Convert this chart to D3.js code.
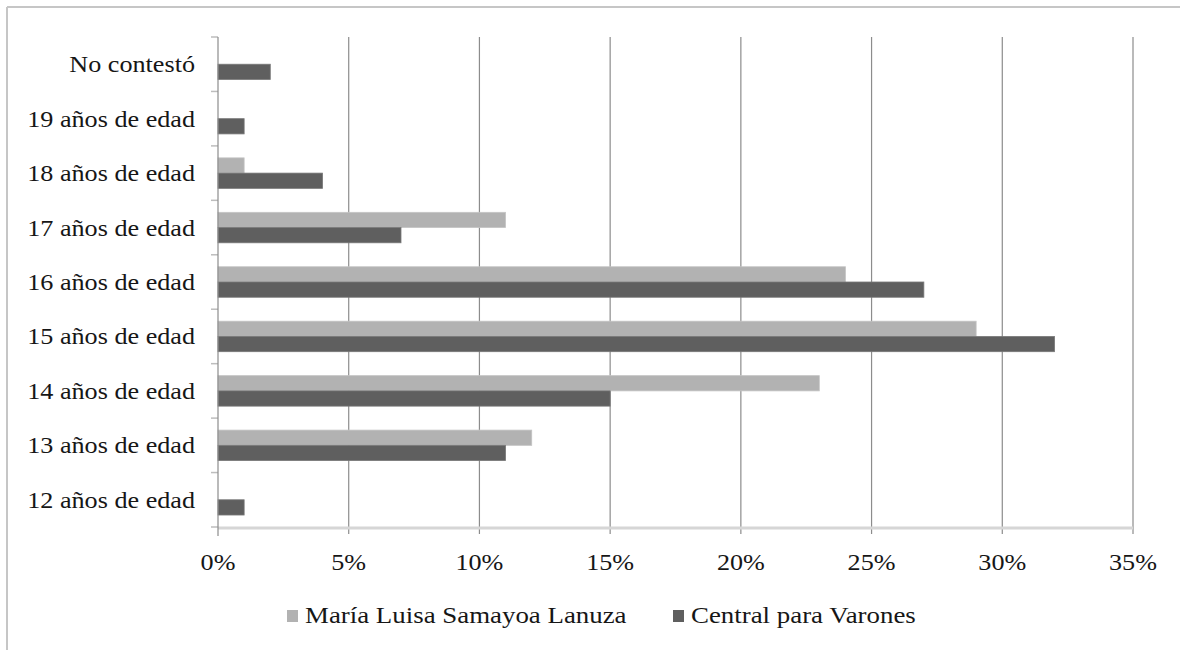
<!DOCTYPE html>
<html>
<head>
<meta charset="utf-8">
<script src="https://cdn.jsdelivr.net/npm/d3@7"></script>
<style>
  html, body { margin: 0; padding: 0; background: #fff; }
  svg { display: block; }
  text { font-family: "Liberation Serif", "Times New Roman", serif; fill: #161616; }
</style>
</head>
<body>
<svg id="chart" width="1180" height="650"></svg>
<script>
// Age groups, bottom to top as drawn on the vertical axis
const categories = ["12 años de edad", "13 años de edad", "14 años de edad", "15 años de edad",
  "16 años de edad", "17 años de edad", "18 años de edad", "19 años de edad", "No contestó"];
const seriesNames = ["María Luisa Samayoa Lanuza", "Central para Varones"];
const mariaLuisa = [0, 12, 23, 29, 24, 11, 1, 0, 0];
const centralVarones = [1, 11, 15, 32, 27, 7, 4, 1, 2];
const xTicks = [0, 5, 10, 15, 20, 25, 30, 35];
const colors = ["#b2b2b2", "#5f5f5f"];

const svg = d3.select("#chart");
const plotLeft = 218, plotRight = 1133, plotTop = 37, plotBottom = 527;
const stretch = 1.09; // horizontal widening of the serif lettering

// Outer frame (top and left edges)
svg.append("line").attr("x1", 7).attr("x2", 1180).attr("y1", 7).attr("y2", 7)
  .attr("stroke", "#c6c6c6").attr("stroke-width", 2);
svg.append("line").attr("x1", 7).attr("x2", 7).attr("y1", 7).attr("y2", 650)
  .attr("stroke", "#c6c6c6").attr("stroke-width", 2);

const x = d3.scaleLinear().domain([0, 35]).range([plotLeft, plotRight]);
const y = d3.scaleBand().domain(categories.slice().reverse()).range([plotTop, plotBottom])
  .paddingInner(0.44).paddingOuter(0.22);
const sub = d3.scaleBand().domain([0, 1]).range([0, y.bandwidth()]);

// Vertical gridlines
svg.append("g").selectAll("line").data(xTicks.slice(1)).join("line")
  .attr("x1", d => x(d)).attr("x2", d => x(d))
  .attr("y1", plotTop).attr("y2", plotBottom + 7)
  .attr("stroke", "#8c8c8c").attr("stroke-width", 1.2);

// Category band ticks on the left axis
const step = (plotBottom - plotTop) / categories.length;
const bandEdges = d3.range(categories.length + 1).map(i => plotTop + i * step);
svg.append("g").selectAll("line").data(bandEdges).join("line")
  .attr("x1", plotLeft - 7).attr("x2", plotLeft).attr("y1", d => d).attr("y2", d => d)
  .attr("stroke", "#bdbdbd").attr("stroke-width", 1.5);

// Bars
const rows = categories.map((c, i) => ({ c, v: [mariaLuisa[i], centralVarones[i]] }));
const g = svg.append("g");
rows.forEach(r => {
  r.v.forEach((val, s) => {
    if (val <= 0) return;
    g.append("rect")
      .attr("x", x(0))
      .attr("y", y(r.c) + sub(s))
      .attr("width", x(val) - x(0))
      .attr("height", sub.bandwidth())
      .attr("fill", colors[s])
      .attr("stroke", s === 0 ? "#c4c4c4" : "#787878")
      .attr("stroke-width", 0.8);
  });
});

// Bottom axis line
svg.append("line").attr("x1", plotLeft).attr("x2", plotRight).attr("y1", plotBottom + 1).attr("y2", plotBottom + 1)
  .attr("stroke", "#d6d6d6").attr("stroke-width", 3);
// Left axis line
svg.append("line").attr("x1", plotLeft).attr("x2", plotLeft).attr("y1", plotTop).attr("y2", plotBottom + 9)
  .attr("stroke", "#8c8c8c").attr("stroke-width", 1.2);

// Category labels
svg.append("g").selectAll("text").data(categories).join("text")
  .attr("transform", d => `translate(195,${y(d) + y.bandwidth() / 2 + 8}) scale(${stretch},1)`)
  .attr("text-anchor", "end")
  .attr("font-size", 24)
  .text(d => d);

// Percentage tick labels
svg.append("g").selectAll("text").data(xTicks).join("text")
  .attr("transform", d => `translate(${x(d)},570) scale(${stretch},1)`)
  .attr("text-anchor", "middle")
  .attr("font-size", 24)
  .text(d => d + "%");

// Legend
const legendX = [287, 673];
const lg = svg.append("g");
seriesNames.forEach((name, i) => {
  lg.append("rect").attr("x", legendX[i]).attr("y", 610).attr("width", 11).attr("height", 12)
    .attr("fill", colors[i]);
  lg.append("text")
    .attr("transform", `translate(${legendX[i] + 18},623) scale(1.12,1)`)
    .attr("font-size", 24)
    .text(name);
});
</script>
</body>
</html>
